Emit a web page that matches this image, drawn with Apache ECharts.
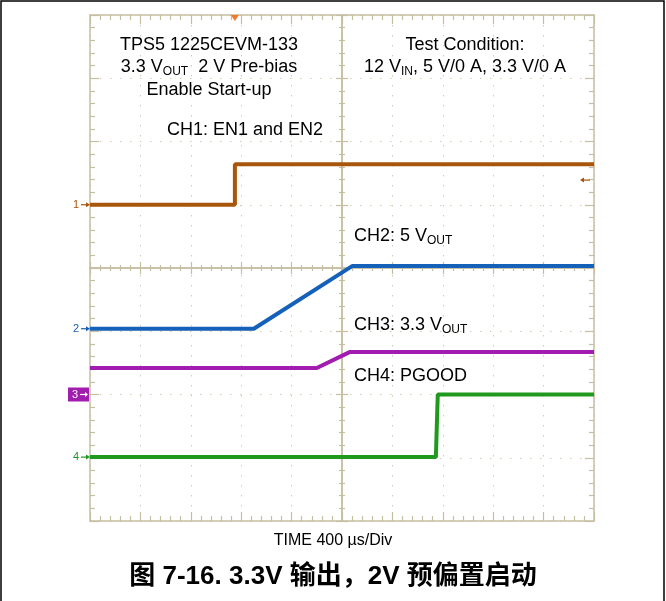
<!DOCTYPE html>
<html><head><meta charset="utf-8">
<script src="https://cdn.jsdelivr.net/npm/echarts@6/dist/echarts.min.js"></script>
<style>html,body{margin:0;padding:0;background:#fff}#c{width:666px;height:601px}</style>
</head><body><div id="c"></div>
<script>
// time in µs relative to screen centre, amplitude in divisions relative to centre
const ch1Time = [-2000, -850, -850, 2000];
const ch1Div  = [1.0, 1.0, 1.64, 1.64];
const ch2Time = [-2000, -700, 80, 2000];
const ch2Div  = [-0.96, -0.96, 0.03, 0.03];
const ch3Time = [-2000, -200, 60, 2000];
const ch3Div  = [-1.58, -1.58, -1.33, -1.33];
const ch4Time = [-2000, 745, 760, 2000];
const ch4Div  = [-2.99, -2.99, -2.0, -2.0];
const groundNames = ['1', '2', '3', '4'];
const groundDiv   = [1.0, -0.96, -2.0, -2.99];
const triggerTime = -850;
const triggerLevelDiv = 1.39;
const timeMin = -2000, timeMax = 2000, timePerDiv = 400;
const divMin = -4, divMax = 4;

const colors = ['#a8560c', '#1560b8', '#a21caf', '#1f9a1f'];
const tan = '#c6bea2';
const FONT = '"Liberation Sans", Arial, sans-serif';

const zip = (a, b) => a.map((v, i) => [v, b[i]]);
const chart = echarts.init(document.getElementById('c'), null, {renderer: 'canvas'});

function xAx(extra) {
  return Object.assign({
    type: 'value', min: timeMin, max: timeMax, interval: timePerDiv,
    axisLabel: {show: false},
    splitLine: {show: false},
    axisLine: {onZero: false, lineStyle: {color: tan, width: 1.5}},
    axisTick: {inside: true, length: 9, lineStyle: {color: tan, width: 1.2}},
    minorTick: {show: true, splitNumber: 5, length: 5, lineStyle: {color: tan, width: 1.2}}
  }, extra);
}
function yAx(extra) {
  return Object.assign({
    type: 'value', min: divMin, max: divMax, interval: 1,
    axisLabel: {show: false},
    splitLine: {show: false},
    axisLine: {onZero: false, lineStyle: {color: tan, width: 1.5}},
    axisTick: {inside: true, length: 9, lineStyle: {color: tan, width: 1.2}},
    minorTick: {show: true, splitNumber: 5, length: 5, lineStyle: {color: tan, width: 1.2}}
  }, extra);
}
const centreTickIn  = {inside: true,  length: 6, lineStyle: {color: tan, width: 1.2}};
const centreTickOut = {inside: false, length: 6, lineStyle: {color: tan, width: 1.2}};
const centreMinor = {show: true, splitNumber: 5, length: 3, lineStyle: {color: tan, width: 1.2}};

const option = {
  animation: false,
  backgroundColor: '#fff',
  grid: {left: 90, right: 72, top: 15, bottom: 80, containLabel: false},
  xAxis: [
    xAx({position: 'bottom', splitLine: {show: true, lineStyle: {color: '#d2ccb6', width: 1, type: [1.5, 8.5]}}}),
    xAx({position: 'top'}),
    xAx({position: 'bottom', axisLine: {onZero: true, onZeroAxisIndex: 0, lineStyle: {color: tan, width: 1.5}}, axisTick: centreTickIn, minorTick: centreMinor}),
    xAx({position: 'bottom', axisLine: {onZero: true, onZeroAxisIndex: 0, lineStyle: {color: tan, width: 1.5}}, axisTick: centreTickOut, minorTick: centreMinor})
  ],
  yAxis: [
    yAx({position: 'left', splitLine: {show: true, lineStyle: {color: '#d2ccb6', width: 1, type: [1.5, 8.5]}}}),
    yAx({position: 'right'}),
    yAx({position: 'left', axisLine: {onZero: true, onZeroAxisIndex: 0, lineStyle: {color: tan, width: 1.5}}, axisTick: centreTickIn, minorTick: centreMinor}),
    yAx({position: 'left', axisLine: {onZero: true, onZeroAxisIndex: 0, lineStyle: {color: tan, width: 1.5}}, axisTick: centreTickOut, minorTick: centreMinor})
  ],
  series: [
    {name: 'CH1', data: zip(ch1Time, ch1Div)},
    {name: 'CH2', data: zip(ch2Time, ch2Div)},
    {name: 'CH3', data: zip(ch3Time, ch3Div)},
    {name: 'CH4', data: zip(ch4Time, ch4Div)}
  ].map((s, i) => Object.assign({
    type: 'line', xAxisIndex: 0, yAxisIndex: 0, showSymbol: false, symbol: 'none',
    lineStyle: {color: colors[i], width: 4}, z: 5
  }, s))
};
chart.setOption(option);

const sub = {fontSize: 12, fontFamily: FONT, lineHeight: 6, verticalAlign: 'bottom', fill: '#000'};
const txt = {fontSize: 18, fontFamily: FONT, lineHeight: 22, fill: '#000'};
function label(x, y, text, align) {
  return {type: 'text', z: 20, style: {
    x, y, text, textAlign: align || 'left', textVerticalAlign: 'middle',
    font: '18px ' + FONT, fill: '#000', rich: {t: txt, s: sub}
  }};
}
const g = [
  {type: 'rect', shape: {x: 1, y: 1, width: 663, height: 620}, style: {fill: 'none', stroke: '#000', lineWidth: 1.5}, silent: true, z: 30},
  label(209, 45, '{t|TPS5 1225CEVM-133}', 'center'),
  label(209, 67, '{t|3.3 V}{s|OUT}{t|  2 V Pre-bias}', 'center'),
  label(209, 90, '{t|Enable Start-up}', 'center'),
  label(167, 130, '{t|CH1: EN1 and EN2}'),
  label(465, 45, '{t|Test Condition:}', 'center'),
  label(465, 67, '{t|12 V}{s|IN}{t|, 5 V/0 A, 3.3 V/0 A}', 'center'),
  label(354, 236, '{t|CH2: 5 V}{s|OUT}'),
  label(354, 325, '{t|CH3: 3.3 V}{s|OUT}'),
  label(354, 376, '{t|CH4: PGOOD}'),
  {type: 'text', z: 20, style: {x: 333, y: 541, text: 'TIME 400 µs/Div', textAlign: 'center', textVerticalAlign: 'middle', font: '16px ' + FONT, fill: '#000'}},
  {type: 'text', z: 20, style: {x: 333, y: 577, text: '图 7-16. 3.3V 输出，2V 预偏置启动', textAlign: 'center', textVerticalAlign: 'middle', font: 'bold 26px "Liberation Sans", "Noto Sans CJK SC", sans-serif', fill: '#000'}}
];

// ground reference markers on the left edge
groundNames.forEach((n, i) => {
  const p = chart.convertToPixel({xAxisIndex: 0, yAxisIndex: 0}, [timeMin, groundDiv[i]]);
  const x = p[0], y = p[1];
  const c = colors[i];
  if (n === '3') {
    g.push({type: 'rect', z: 20, shape: {x: x - 22, y: y - 7, width: 21, height: 14}, style: {fill: c}});
    g.push({type: 'text', z: 21, style: {x: x - 15, y: y, text: n, textAlign: 'center', textVerticalAlign: 'middle', font: '11px ' + FONT, fill: '#fff'}});
    g.push({type: 'line', z: 21, shape: {x1: x - 10, y1: y, x2: x - 3, y2: y}, style: {stroke: '#fff', lineWidth: 1.2}});
    g.push({type: 'polygon', z: 21, shape: {points: [[x - 2, y], [x - 5, y - 2.5], [x - 5, y + 2.5]]}, style: {fill: '#fff'}});
  } else {
    g.push({type: 'text', z: 20, style: {x: x - 14, y: y, text: n, textAlign: 'center', textVerticalAlign: 'middle', font: '11px ' + FONT, fill: c}});
    g.push({type: 'line', z: 20, shape: {x1: x - 9, y1: y, x2: x - 2, y2: y}, style: {stroke: c, lineWidth: 1.2}});
    g.push({type: 'polygon', z: 20, shape: {points: [[x, y], [x - 4, y - 2.5], [x - 4, y + 2.5]]}, style: {fill: c}});
  }
});

// trigger position (top) and trigger level (right)
const tp = chart.convertToPixel({xAxisIndex: 0, yAxisIndex: 0}, [triggerTime, divMax]);
g.push({type: 'polygon', z: 20, shape: {points: [[tp[0] - 4, tp[1]], [tp[0] + 4, tp[1]], [tp[0], tp[1] + 6]]}, style: {fill: '#f07a2a'}});
const tl = chart.convertToPixel({xAxisIndex: 0, yAxisIndex: 0}, [timeMax, triggerLevelDiv]);
g.push({type: 'line', z: 20, shape: {x1: tl[0] - 12, y1: tl[1], x2: tl[0] - 4, y2: tl[1]}, style: {stroke: colors[0], lineWidth: 1.2}});
g.push({type: 'polygon', z: 20, shape: {points: [[tl[0] - 14, tl[1]], [tl[0] - 10, tl[1] - 2.5], [tl[0] - 10, tl[1] + 2.5]]}, style: {fill: colors[0]}});

chart.setOption({graphic: g});
</script>
</body></html>
